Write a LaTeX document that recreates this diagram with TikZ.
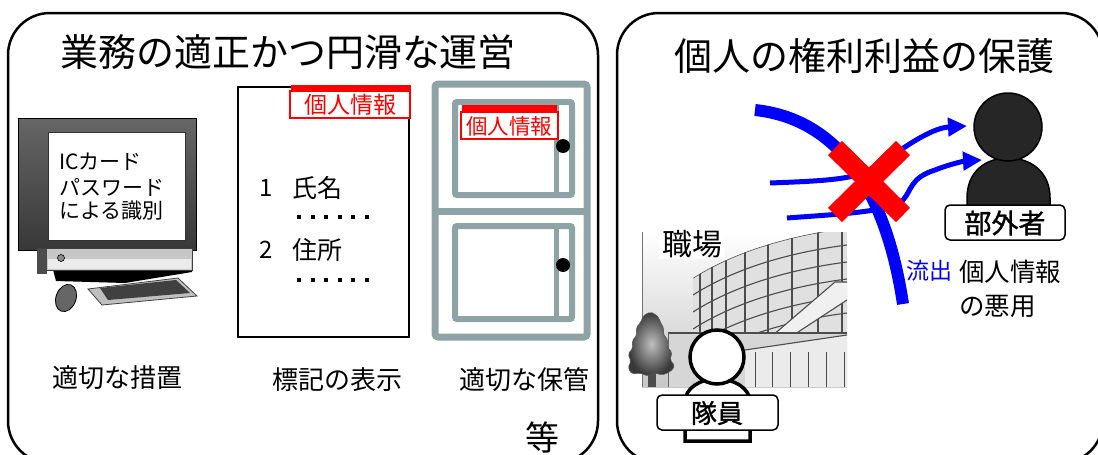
\documentclass[tikz,border=0pt]{standalone}
\usepackage{fontspec}
\setmainfont{Noto Sans CJK JP}
\newfontfamily\jpbold[FakeBold=1.3]{Noto Sans CJK JP}
\usetikzlibrary{arrows.meta}
\definecolor{cabgray}{RGB}{141,163,165}
\definecolor{pblue}{RGB}{0,0,255}
\definecolor{pred}{RGB}{255,0,0}
\definecolor{silhouette}{RGB}{38,38,38}
\newcommand{\fs}[1]{\fontsize{#1pt}{#1pt}\selectfont}
\tikzset{
  panel/.style={draw=black, line width=2.5pt, rounded corners=42pt},
  txt/.style={inner sep=0pt, font=\fs{#1}},
  tagbar/.style={fill=pred},
  tagbox/.style={draw=pred, line width=1.5pt, fill=white},
  cab/.style={draw=cabgray, line width=7pt, rounded corners=3pt},
  door/.style={draw=cabgray, line width=6pt, rounded corners=2pt},
  bline/.style={draw=black!70, line width=1.1pt},
  flow/.style={draw=pblue, line width=5pt, -{Triangle[length=19pt,width=18pt]}},
  namebox/.style={draw=black, line width=1.5pt, fill=white, rounded corners=5pt},
}
\begin{document}
\begin{tikzpicture}[x=1pt,y=-1pt]
\path[use as bounding box] (0,0) rectangle (1098,455);
\clip (0,0) rectangle (1098,455);

% ---- panel frames
\draw[panel] (8,13) rectangle (598,463);
\draw[panel] (617,13) rectangle (1103,463);

% ---- titles
\node[txt=38] (titleL) at (288,52) {業務の適正かつ円滑な運営};
\node[txt=38] (titleR) at (864,56) {個人の権利利益の保護};

% ---- computer
\shade[top color=black!60, bottom color=black!78] (18,118) rectangle (196,250);
\draw[black, line width=1pt] (18,118) rectangle (196,250);
\fill[white, draw=black!80, line width=0.8pt] (48,132) rectangle (185,240);
\node[txt=21, anchor=west] (scr1) at (59,162) {ICカード};
\node[txt=21, anchor=west] (scr2) at (59,187) {パスワード};
\node[txt=21, anchor=west] (scr3) at (59,211) {による識別};
\fill[black] (52,266) -- (192,264) -- (192,272) -- (125,283) -- (56,281) -- cycle;
\fill[black!22, draw=black!75, line width=0.8pt] (37,248) rectangle (192,270);
\fill[black!8] (48,259) rectangle (191,269);
\fill[black!70] (37,249) rectangle (47,274);
\fill[black!45, draw=black, line width=0.6pt] (61,258) circle[radius=3.5pt];
\fill[black!25, draw=black!75, line width=0.8pt] (88,289) -- (178,278) -- (197,296) -- (102,305) -- cycle;
\fill[black!75] (100,288) -- (176,280) -- (190,293) -- (108,300) -- cycle;
\fill[black!60, draw=black, line width=0.8pt, rotate around={-20:(66,298)}] (66,298) ellipse[x radius=10pt, y radius=14pt];

% ---- labelled document
\draw[black, line width=2pt] (238,87) rectangle (409,337);
\fill[tagbar] (291,85) rectangle (411,91);
\draw[tagbox] (290,91) rectangle (410,118);
\node[txt=23, text=pred] (tagA) at (350,105) {個人情報};
\node[txt=24] (n1) at (266,188) {1};
\node[txt=25, anchor=west] (f1) at (292,188) {氏名};
\node[txt=24] (n2) at (266,250) {2};
\node[txt=25, anchor=west] (f2) at (292,250) {住所};
\foreach \i in {0,...,5} {
  \fill (297+\i*13.6,215) rectangle ++(4,4);
  \fill (297+\i*13.6,278) rectangle ++(4,4);
}

% ---- cabinet
\draw[cab] (435,84) rectangle (587,337);
\draw[cabgray, line width=7pt] (435,211) -- (587,211);
\draw[door] (455,102) rectangle (572,195);
\draw[cabgray, line width=5pt] (556,102) -- (556,195);
\draw[door] (455,226) rectangle (572,319);
\draw[cabgray, line width=5pt] (556,226) -- (556,319);
\fill[black] (563,146) circle[radius=7pt];
\fill[black] (563,265) circle[radius=7pt];
\fill[tagbar] (462,105) rectangle (557,112);
\draw[tagbox] (461,112) rectangle (558,139);
\node[txt=21.5, text=pred] (tagB) at (509,126) {個人情報};

% ---- captions
\node[txt=26] (capA) at (117,378) {適切な措置};
\node[txt=26] (capB) at (337,380) {標記の表示};
\node[txt=26] (capC) at (524,380) {適切な保管};
\node[txt=34] (etc) at (542,437) {等};

% ---- workplace building
\begin{scope}
  \clip (642,232) rectangle (847,387);
  \shade[top color=white, bottom color=black!22] (642,232) rectangle (847,387);
  \draw[black!55, line width=1pt] (642,232) -- (642,387);
  \fill[black!12] (693,335) -- (693,278) .. controls (740,248) and (800,234) .. (847,228) -- (847,335) -- cycle;
  \begin{scope}
    \clip (693,335) -- (693,278) .. controls (740,248) and (800,234) .. (847,228) -- (847,335) -- cycle;
    \foreach \d in {0,17,...,100}
      \draw[bline] (693,278+\d) .. controls (740,248+\d) and (800,234+\d) .. (847,228+\d);
    \foreach \x in {700,712,726,745,768,792,818,842}
      \draw[bline] (\x,220) -- (\x,340);
  \end{scope}
  \fill[black!6] (772,336) -- (835,282) -- (847,282) -- (847,300) -- (792,336) -- cycle;
  \draw[bline] (772,336) -- (835,282) -- (847,282);
  \draw[bline] (792,336) -- (847,300);
  \fill[black!16] (668,333) rectangle (847,387);
  \fill[black!8] (745,350) -- (847,335) -- (847,387) -- (745,387) -- cycle;
  \draw[bline] (668,333) -- (847,333);
  \draw[bline] (745,350) -- (847,335);
  \foreach \x in {755,772,790,808,826,844}
    \draw[black!70, line width=0.9pt] (\x,352) -- (\x,387);
  \draw[black!60, line width=0.8pt] (668,333) -- (668,387);
\end{scope}
\node[txt=30, fill=white, inner xsep=3pt, inner ysep=1pt] (work) at (692,244) {職場};
% tree in front of the building
\fill[black!70] (648,368) rectangle (656,387);
\shade[inner color=black!25, outer color=black!78, draw=black!65, line width=0.6pt, rounded corners=2pt]
  (650,312) -- (655,314) -- (659,318) -- (661,324) -- (664,328) -- (663,334) -- (668,340)
  -- (667,347) -- (672,352) -- (670,360) -- (675,366) -- (670,372) -- (662,375) -- (655,373)
  -- (648,376) -- (640,373) -- (632,374) -- (628,368) -- (631,361) -- (628,354) -- (633,348)
  -- (632,341) -- (637,335) -- (636,328) -- (641,322) -- (643,316) -- cycle;

% ---- staff member
\draw[black, line width=3.5pt, fill=white] (685,441) -- (685,402) .. controls (685,388) and (700,379) .. (717,379) .. controls (734,379) and (750,388) .. (750,402) -- (750,441) -- cycle;
\draw[black, line width=3.5pt, fill=white] (717,357) circle[radius=27pt];
\draw[namebox] (657,395) rectangle (778,430);
\node[txt=26, font=\fs{26}\jpbold] (staff) at (717,413) {隊員};

% ---- outsider
\draw[black, line width=1.5pt, fill=silhouette] (967,206) -- (967,198) .. controls (967,172) and (985,158) .. (1008,158) .. controls (1031,158) and (1050,172) .. (1050,198) -- (1050,206) -- cycle;
\draw[black, line width=1.5pt, fill=silhouette] (1008,127) circle[radius=34pt];
\draw[namebox] (945,205) rectangle (1065,240);
\node[txt=27, font=\fs{27}\jpbold] (outsider) at (1005,223) {部外者};
\coordinate (tipA) at (967,126);
\coordinate (tipB) at (982,160);

% ---- information flows and the blocking mark
\coordinate (srcA) at (770,183);
\coordinate (srcB) at (787,218);
\draw[flow] (srcA) .. controls (820,181) and (855,180) .. (875,168) .. controls (900,150) and (930,128) .. (tipA);
\draw[flow] (srcB) .. controls (840,214) and (890,212) .. (903,200) .. controls (912,190) and (910,178) .. (935,170) .. controls (950,164) and (965,161) .. (tipB);
\coordinate (leakS) at (755,110);
\coordinate (leakE) at (903,304);
\draw[pblue, line width=12pt] (leakS) .. controls (830,118) and (884,178) .. (leakE);
\draw[pred, line width=20pt] (835,148) -- (903,215);
\draw[pred, line width=20pt] (903,148) -- (835,215);

\node[txt=23, text=pblue, anchor=west] (leak) at (906,271) {流出};
\node[txt=25.5, anchor=west] (misuse1) at (959,272) {個人情報};
\node[txt=25.5, anchor=west] (misuse2) at (959,306) {の悪用};
\end{tikzpicture}
\end{document}
